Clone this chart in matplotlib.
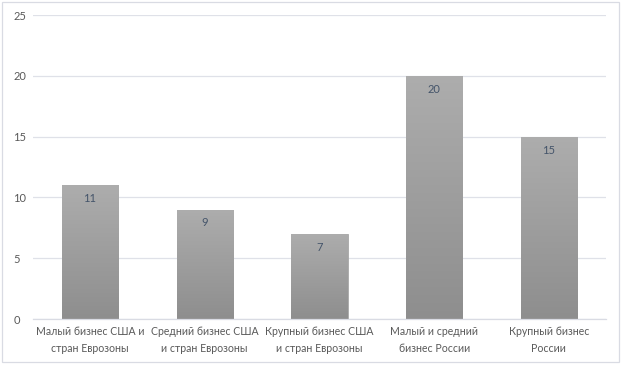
import matplotlib
matplotlib.use("Agg")
import matplotlib.pyplot as plt
import numpy as np
from matplotlib.patches import Rectangle
from matplotlib.colors import LinearSegmentedColormap

categories = ["Малый бизнес США и\nстран Еврозоны",
              "Средний бизнес США\nи стран Еврозоны",
              "Крупный бизнес США\nи стран Еврозоны",
              "Малый и средний\nбизнес России",
              "Крупный бизнес\nРоссии"]
values = [11, 9, 7, 20, 15]
yticks = [0, 5, 10, 15, 20, 25]

plt.rcParams['font.family'] = ['Lato', 'DejaVu Sans']

fig = plt.figure(figsize=(6.24, 3.67), dpi=100)
ax = fig.add_axes([32.6/624, 1-319/367, 573.7/624, 304/367])

x = np.arange(len(categories))
bars = ax.bar(x, values, width=0.49, color='#9d9d9d', edgecolor='#a8a8a8', linewidth=0.6, zorder=2)

grad = np.linspace(0, 1, 256).reshape(-1, 1)
cmap = LinearSegmentedColormap.from_list('g', ['#8e8e8e', '#adadad'])
for b in bars:
    x0, y0 = b.get_x(), b.get_y()
    w, h = b.get_width(), b.get_height()
    im = ax.imshow(grad, extent=[x0, x0 + w, y0, y0 + h], origin='lower',
                   cmap=cmap, aspect='auto', zorder=2.5)
    im.set_clip_path(b)

for xi, v in zip(x, values):
    ax.text(xi, v - 0.65, str(v), ha='center', va='top', fontsize=8, color='#44546a', zorder=4)

ax.set_xlim(-0.5, len(categories) - 0.5)
ax.set_ylim(0, 25)
ax.set_yticks(yticks)
ax.set_xticks(x)
ax.set_xticklabels(categories, fontsize=7.6, color='#595959', linespacing=1.65)
ax.tick_params(axis='both', length=0, colors='#595959')
ax.tick_params(axis='y', labelsize=8, pad=14)
ax.tick_params(axis='x', pad=5)
for lab in ax.get_yticklabels():
    lab.set_horizontalalignment('left')
ax.grid(axis='y', color='#dfe1e8', linewidth=0.9, zorder=0)
ax.set_axisbelow(True)
for s in ['top', 'right', 'left']:
    ax.spines[s].set_visible(False)
ax.spines['bottom'].set_color('#d9dbe3')
ax.spines['bottom'].set_linewidth(0.9)

fig.patches.append(Rectangle((2/624, 5/367), 617/624, 360/367, transform=fig.transFigure,
                             fill=False, edgecolor='#d9dbe3', linewidth=0.9))

fig.savefig('out.png', dpi=100)
